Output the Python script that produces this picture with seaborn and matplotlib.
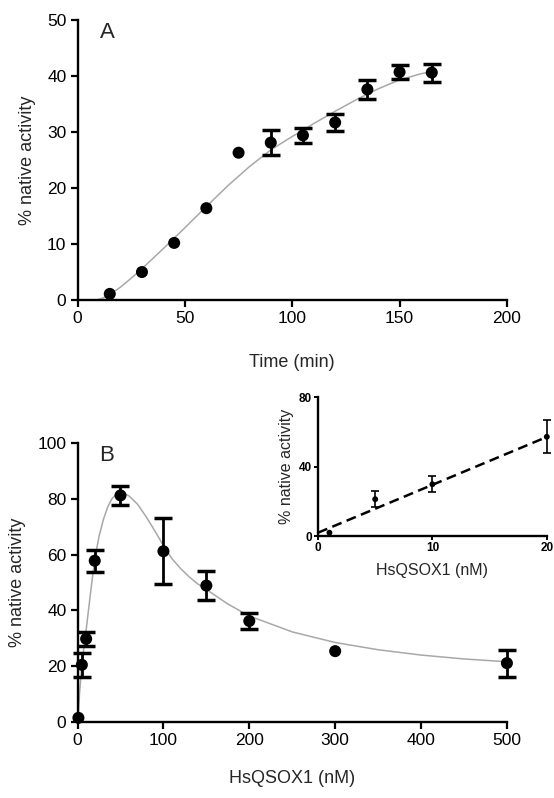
import numpy as np
import pandas as pd
import matplotlib
matplotlib.use("Agg")
import matplotlib.pyplot as plt
import seaborn as sns

# ---------------- data ----------------
# Panel A
time_min = [15, 30, 45, 60, 75, 90, 105, 120, 135, 150, 165]
activity_A = [1.1, 5.0, 10.2, 16.4, 26.3, 28.1, 29.4, 31.7, 37.6, 40.7, 40.6]
err_A = [0, 0, 0, 0, 0, 2.2, 1.4, 1.6, 1.7, 1.25, 1.6]
# fitted curve A
fitA_x = [8, 10, 12, 15, 20, 25, 30, 40, 50, 60, 70, 80, 90, 100, 105, 110,
          120, 130, 140, 150, 160, 165]
fitA_y = [0.0, 0.12, 0.4, 1.0, 2.3, 3.9, 5.6, 9.2, 12.9, 16.7, 20.4, 23.8,
          26.8, 29.2, 30.3, 31.5, 33.7, 35.8, 37.7, 39.3, 40.4, 40.8]

# Panel B
conc_B = [1, 5, 10, 20, 50, 100, 150, 200, 300, 500]
activity_B = [1.5, 20.5, 29.8, 57.8, 81.2, 61.2, 48.9, 36.2, 25.4, 21.1]
err_B = [0, 4.2, 2.4, 3.9, 3.4, 11.8, 5.2, 2.9, 0, 4.8]
# fitted curve B
fitB_x = [0, 1, 2.5, 5, 7.5, 10, 15, 20, 25, 30, 35, 40, 45, 50, 55, 60, 70,
          80, 90, 100, 110, 120, 130, 140, 150, 175, 200, 250, 300, 350, 400,
          450, 500]
fitB_y = [0, 4, 11, 20.5, 27, 33, 46, 58.5, 66.5, 72.5, 77, 80, 81.6, 82.1,
          81.8, 81, 78, 73.5, 68.5, 63.2, 58.5, 55, 52, 49.5, 47.5, 42.3, 38,
          32.3, 28.5, 25.9, 24, 22.6, 21.6]

# Inset
conc_I = [1, 5, 10, 20]
activity_I = [1.9, 21.2, 29.8, 57.1]
err_I = [0, 4.5, 4.6, 9.5]
lineI_x = [0, 20]
lineI_y = [1.9, 57.0]

# ---------------- style ----------------
sns.set_style("ticks")
plt.rcParams['font.family'] = ['Liberation Sans', 'DejaVu Sans']

fig = plt.figure(figsize=(5.54, 7.98), dpi=100)
axA = fig.add_axes([0.140, 0.624, 0.775, 0.351])
axB = fig.add_axes([0.140, 0.0952, 0.775, 0.3497])
axI = fig.add_axes([0.574, 0.3283, 0.413, 0.1742])

GREY = '#a8a8a8'


def panel(ax, x, y, e, fx, fy, s, elw, cap, cth, fit_style):
    sns.lineplot(x=fx, y=fy, ax=ax, estimator=None, sort=False, **fit_style)
    df = pd.DataFrame({'x': x, 'y': y, 'e': e})
    d = df[df.e > 0]
    ax.errorbar(d.x, d.y, yerr=d.e, fmt='none', ecolor='black',
                elinewidth=elw, capsize=cap, capthick=cth, zorder=3,
                clip_on=False)
    sns.scatterplot(data=df, x='x', y='y', ax=ax, s=s, color='black',
                    edgecolor='none', zorder=4, clip_on=False, legend=False)


panel(axA, time_min, activity_A, err_A, fitA_x, fitA_y, 75, 2.0, 6.5, 2.5,
      dict(color=GREY, linewidth=1.1))
panel(axB, conc_B, activity_B, err_B, fitB_x, fitB_y, 75, 2.0, 6.5, 2.5,
      dict(color=GREY, linewidth=1.1))
panel(axI, conc_I, activity_I, err_I, lineI_x, lineI_y, 18, 1.2, 3.0, 1.2,
      dict(color='black', linewidth=1.8, linestyle=(0, (4, 2.2))))

for ax in (axA, axB, axI):
    sns.despine(ax=ax)
    for sp in ('left', 'bottom'):
        ax.spines[sp].set_linewidth(1.7)
        ax.spines[sp].set_color('black')

# Panel A axes
axA.set_xlim(0, 200)
axA.set_ylim(0, 50)
axA.set_xticks([0, 50, 100, 150, 200])
axA.set_yticks([0, 10, 20, 30, 40, 50])
axA.tick_params(direction='out', length=5, width=1.6, labelsize=12.5,
                colors='black', pad=3)
axA.set_xlabel('Time (min)', fontsize=13, labelpad=20)
axA.set_ylabel('% native activity', fontsize=13, labelpad=8)
axA.text(14, 47.8, 'A', fontsize=16, ha='center', va='center')

# Panel B axes
axB.set_xlim(0, 500)
axB.set_ylim(0, 100)
axB.set_xticks([0, 100, 200, 300, 400, 500])
axB.set_yticks([0, 20, 40, 60, 80, 100])
axB.tick_params(direction='out', length=5, width=1.6, labelsize=12.5,
                colors='black', pad=3)
axB.set_xlabel('HsQSOX1 (nM)', fontsize=13, labelpad=16)
axB.set_ylabel('% native activity', fontsize=13, labelpad=8)
axB.text(34, 95.5, 'B', fontsize=16, ha='center', va='center')

# Inset axes
axI.set_facecolor('white')
axI.set_xlim(0, 20)
axI.set_ylim(0, 80)
axI.set_xticks([0, 10, 20])
axI.set_yticks([0, 40, 80])
axI.tick_params(direction='out', length=3, width=1.4, labelsize=8.5,
                colors='black', pad=1.5)
for lab in axI.get_xticklabels() + axI.get_yticklabels():
    lab.set_fontweight('bold')
axI.set_xlabel('HsQSOX1 (nM)', fontsize=11.5, labelpad=6)
axI.set_ylabel('% native activity', fontsize=11.5, labelpad=3)

fig.savefig('out.png', dpi=100, facecolor='white')
